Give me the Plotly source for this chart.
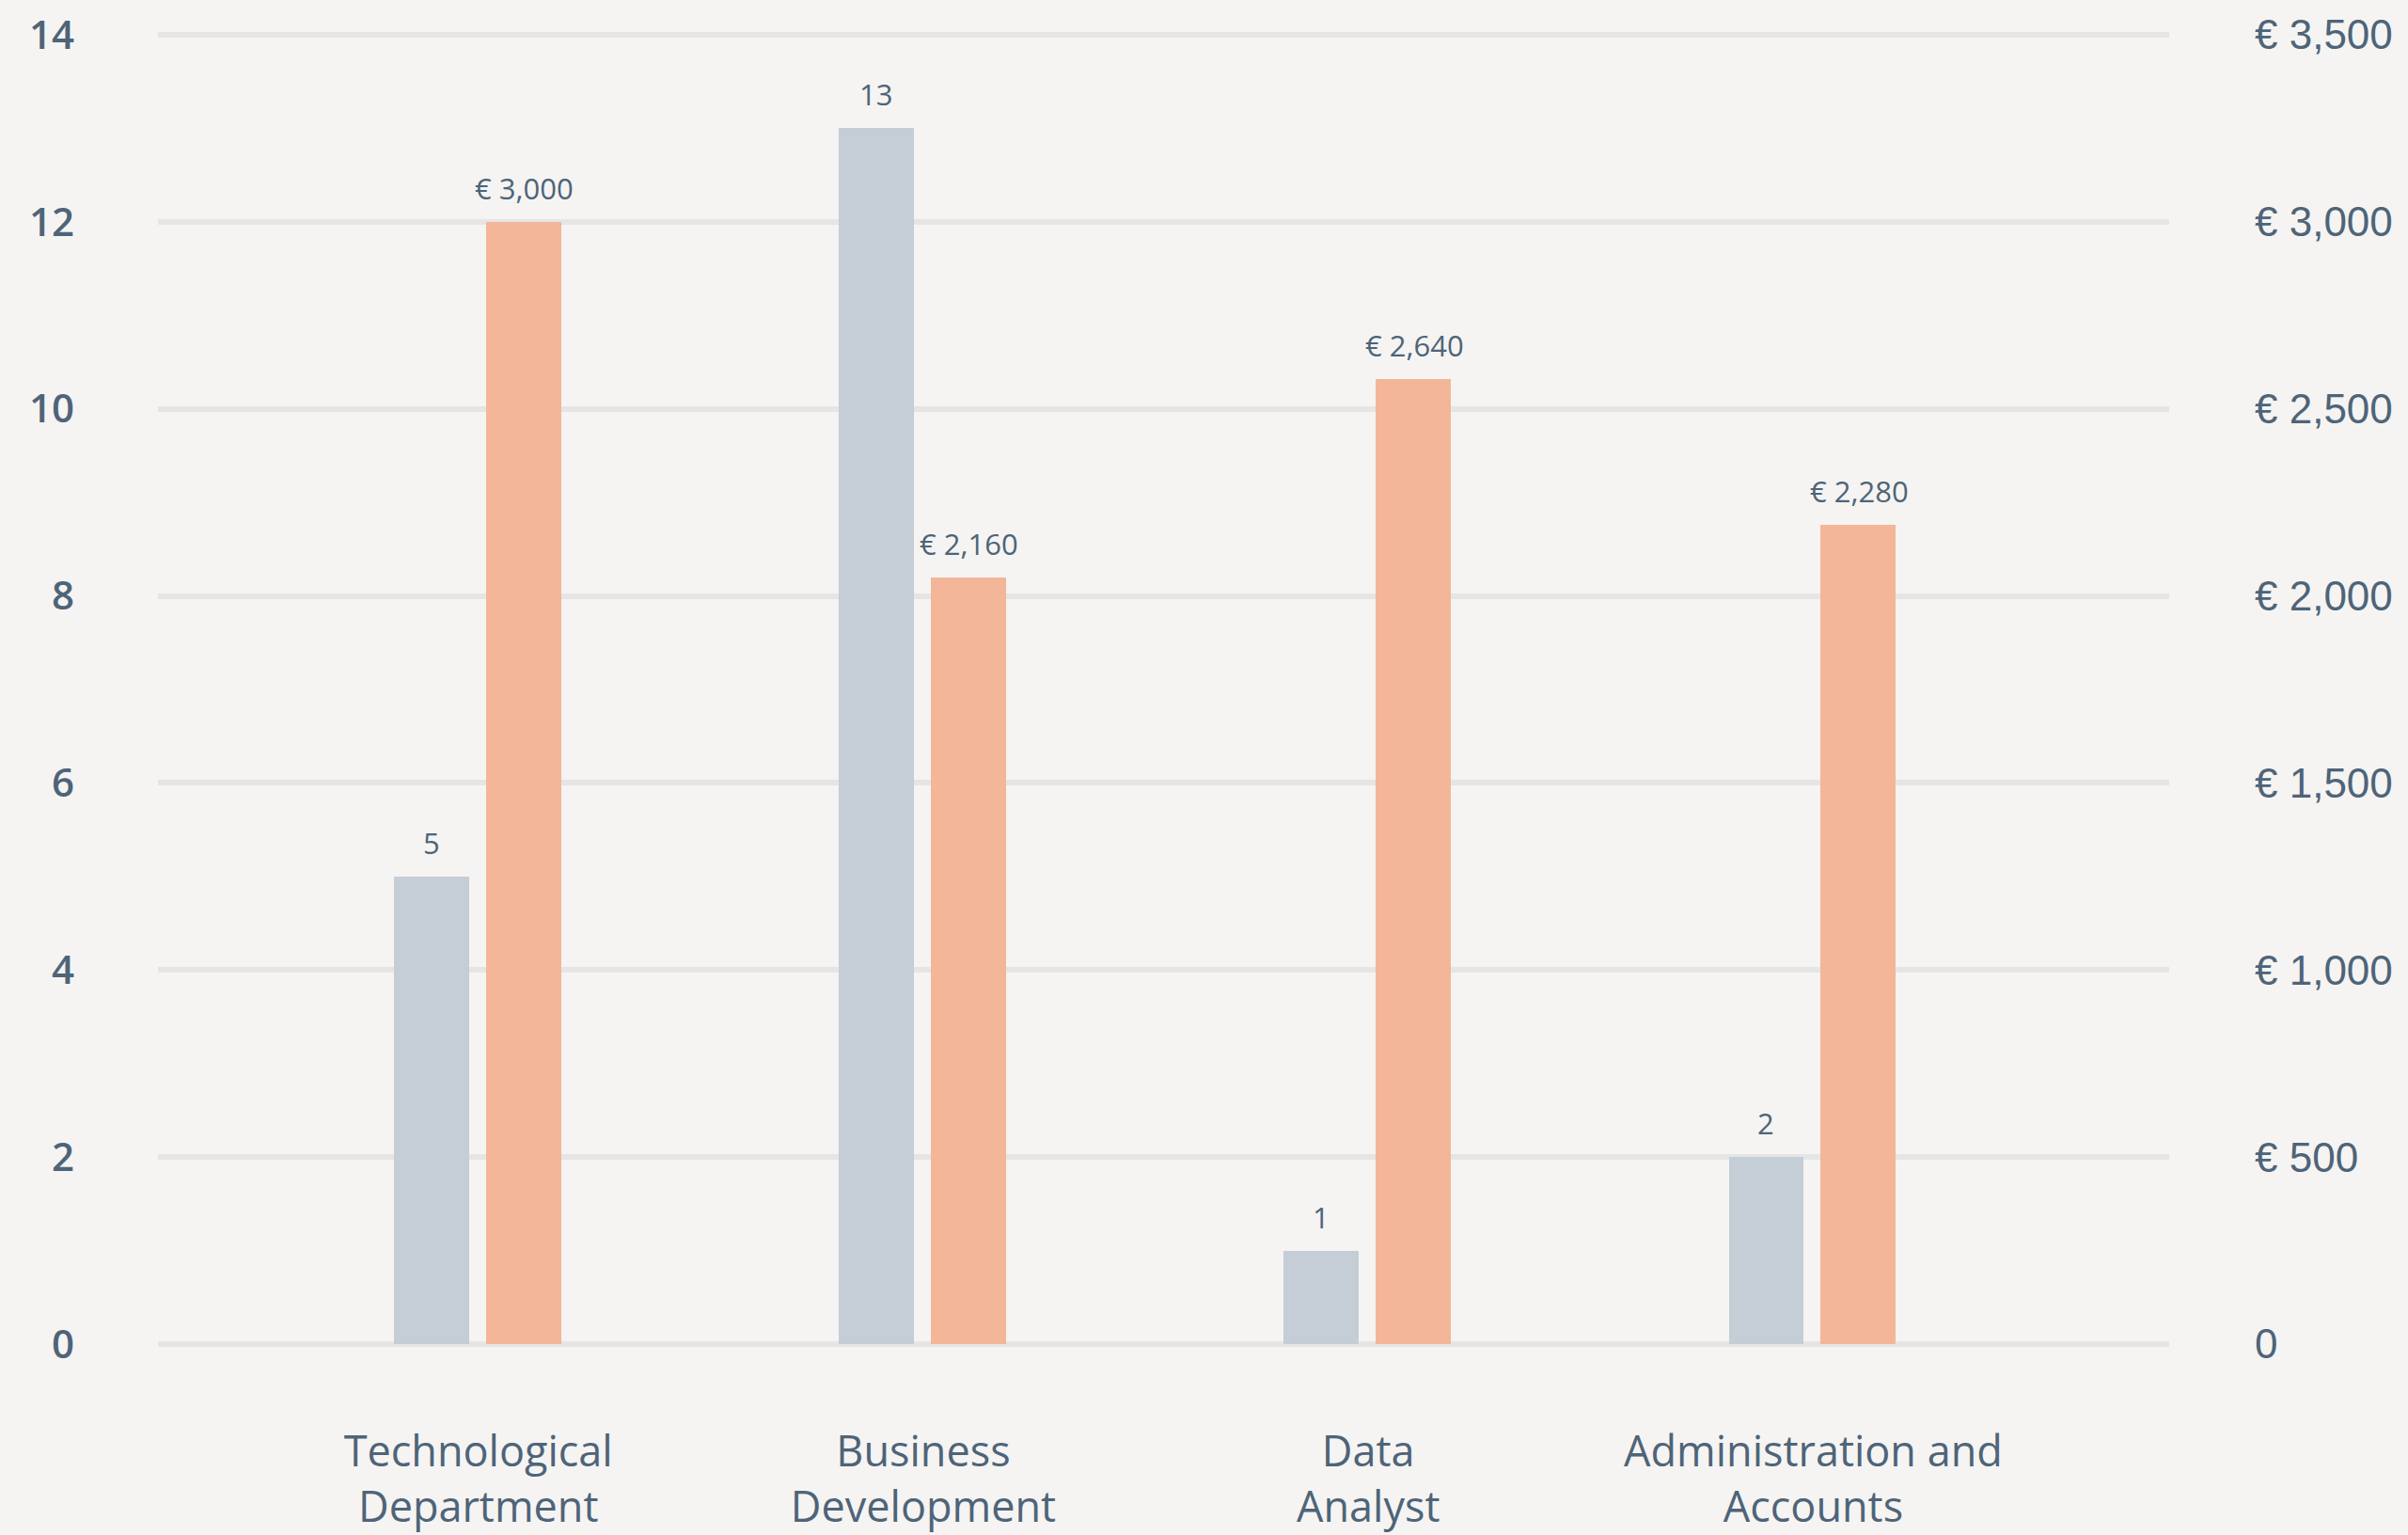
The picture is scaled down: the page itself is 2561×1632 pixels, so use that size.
import plotly.graph_objects as go

categories = ["Technological<br>Department", "Business<br>Development", "Data<br>Analyst", "Administration and<br>Accounts"]
headcount = [5, 13, 1, 2]
salary = [3000, 2050, 2580, 2190]
salary_labels = ["€ 3,000", "€ 2,160", "€ 2,640", "€ 2,280"]
left_ticks = [0, 2, 4, 6, 8, 10, 12, 14]
right_ticks = [0, 500, 1000, 1500, 2000, 2500, 3000, 3500]
right_tick_labels = ["0", "€ 500", "€ 1,000", "€ 1,500", "€ 2,000", "€ 2,500", "€ 3,000", "€ 3,500"]

TXT = "#4e6479"
GREY = "#c5cdd6"
ORANGE = "#f3b698"
BG = "#f5f4f2"
GRID = "#e5e5e4"
FONT = "Open Sans"

PAD = 0.04  # small range padding so the 0 and 14 gridlines are drawn
Y1 = [-PAD, 14 + PAD]
Y2 = [-PAD * 250, 3500 + PAD * 250]

fig = go.Figure()
fig.add_trace(go.Bar(x=categories, y=headcount, marker_color=GREY, width=0.169, offset=-0.190,
                     yaxis="y", hoverinfo="skip", marker_line_width=0))
fig.add_trace(go.Bar(x=categories, y=salary, marker_color=ORANGE, width=0.169, offset=0.017,
                     yaxis="y2", hoverinfo="skip", marker_line_width=0))

annotations = []
for c, v in zip(categories, headcount):
    annotations.append(dict(x=c, y=v, xref="x", yref="y", text=str(v), showarrow=False,
                            xshift=-50, yshift=13, yanchor="bottom",
                            font=dict(family=FONT, size=31, color=TXT)))
for c, v, t in zip(categories, salary, salary_labels):
    annotations.append(dict(x=c, y=v, xref="x", yref="y2", text=t, showarrow=False,
                            xshift=49, yshift=13, yanchor="bottom",
                            font=dict(family=FONT, size=31, color=TXT)))

fig.update_layout(
    width=2561, height=1632,
    paper_bgcolor=BG, plot_bgcolor=BG,
    margin=dict(l=168, r=254, t=33, b=199, autoexpand=False),
    showlegend=False,
    bargap=0,
    xaxis=dict(type="category", range=[-0.72, 3.80], showgrid=False, zeroline=False,
               showline=False, ticks="", ticklabelstandoff=80, automargin=False,
               tickfont=dict(family=FONT, size=45, color=TXT)),
    yaxis=dict(range=Y1, tickvals=left_ticks, showgrid=True, gridcolor=GRID, gridwidth=6,
               zeroline=False, showline=False, ticks="", ticklabelstandoff=88, automargin=False,
               tickfont=dict(family=FONT, size=42, color=TXT, weight=600)),
    yaxis2=dict(range=Y2, overlaying="y", side="right", tickvals=right_ticks,
                ticktext=right_tick_labels, showgrid=False, zeroline=False, showline=False,
                ticks="", ticklabelstandoff=90, automargin=False,
                tickfont=dict(family="Liberation Sans", size=44, color=TXT)),
    annotations=annotations,
)

fig.write_html(
    "out.html",
    config={"displayModeBar": False},
    post_script="document.body.style.margin='0';document.body.style.overflow='hidden';"
                "document.body.style.background='" + BG + "';",
)
